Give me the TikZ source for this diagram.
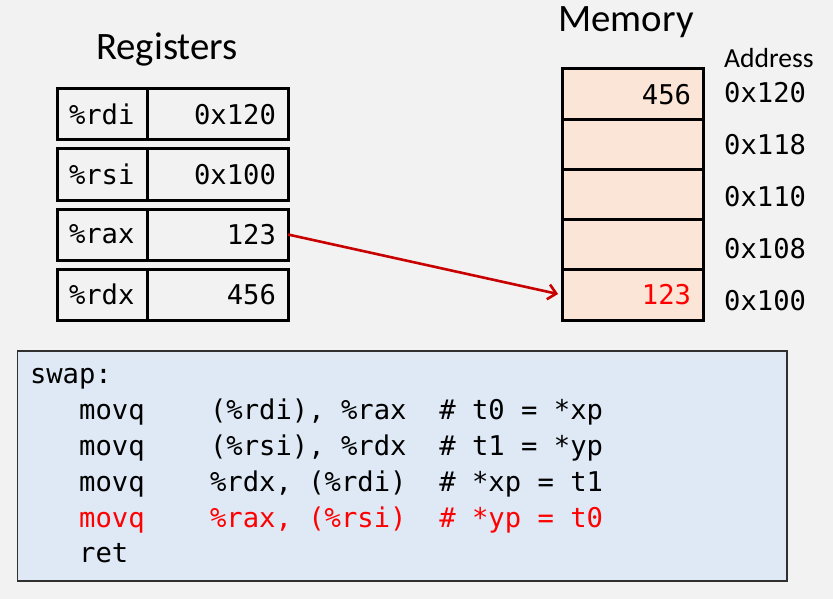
\documentclass[tikz,border=0pt]{standalone}
\usepackage{fontspec}
\setmainfont{Carlito}
\setmonofont{DejaVu Sans Mono}
\usepackage{tikz}
\usetikzlibrary{arrows.meta, positioning}
\definecolor{colBg}      {HTML}{F2F2F2}
\definecolor{colMem}     {HTML}{FBE5D6}
\definecolor{colCode}    {HTML}{DEE9F5}
\definecolor{colCodeLine}{HTML}{303030}
\definecolor{colRed}     {HTML}{FF0000}
\definecolor{colArrow}   {HTML}{C80000}
% monospaced text: ~ is one full character cell
\newcommand{\codefont}{\fontsize{27.2}{35.8}\selectfont\ttfamily
  \def~{\hphantom{0}}}
\newcommand{\ind}{\hphantom{000}}
\tikzset{
  cell/.style={
    draw, line width=3pt, outer sep=0pt,
    minimum height=51pt, inner xsep=12pt, inner ysep=0pt,
    font=\codefont
  },
  regname/.style={cell, minimum width=90pt,  text width=66pt,  align=left},
  regval/.style ={cell, minimum width=141pt, text width=117pt, align=right},
  memcell/.style={cell, fill=colMem, minimum width=141pt, minimum height=50.2pt,
    text width=117pt, align=right},
  addr/.style={anchor=west, inner sep=0pt, font=\codefont},
  title/.style={anchor=base, inner sep=0pt, font=\fontsize{38.8}{44}\selectfont},
  codebox/.style={
    draw=colCodeLine, line width=1.6pt, fill=colCode,
    minimum width=769.5pt, minimum height=230pt,
    text width=744.5pt, inner xsep=12.5pt, align=left, font=\codefont
  },
  ptrarr/.style={
    -{Straight Barb[length=8pt,width=15pt]},
    line width=2.6pt, draw=colArrow, shorten >=4pt
  }
}
\begin{document}
\begin{tikzpicture}[x=1pt, y=-1pt]
  \fill[colBg] (0,0) rectangle (833,599);
  % registers
  \node[title] (regtitle) at (167,60) {Registers};
  \foreach \reg/\val [count=\i from 0] in {rdi/0x120, rsi/0x100, rax/123, rdx/456}{
    \node[regname] (\reg) at (102,{114.5+60*\i}) {\%\reg};
    \node[regval, right=0pt of \reg] (\reg v) {\val};
  }
  % memory
  \node[title] (memtitle) at (626,32) {Memory};
  \node[anchor=base west, inner sep=0pt, font=\fontsize{27.6}{32}\selectfont]
    (addrtitle) at (724,68) {Address};
  \foreach \adr/\val [count=\i from 0] in {120/456, 118/{}, 110/{}, 108/{}, 100/{\color{colRed}123}}{
    \node[memcell] (m\adr) at (632.5,{94.1+50.2*\i}) {\val};
    \node[addr] (a\adr) at (724,{93+52*\i}) {0x\adr};
  }
  \draw[ptrarr] (raxv.east) -- (m100.west);
  % code
  \node[codebox] (code) at (402.25,466) {%
    swap:\\
    \ind movq~~~~(\%rdi),~\%rax~~\#~t0~=~*xp\\
    \ind movq~~~~(\%rsi),~\%rdx~~\#~t1~=~*yp\\
    \ind movq~~~~\%rdx,~(\%rdi)~~\#~*xp~=~t1\\
    \ind{\color{colRed}movq~~~~\%rax,~(\%rsi)~~\#~*yp~=~t0}\\
    \ind ret};
\end{tikzpicture}
\end{document}
